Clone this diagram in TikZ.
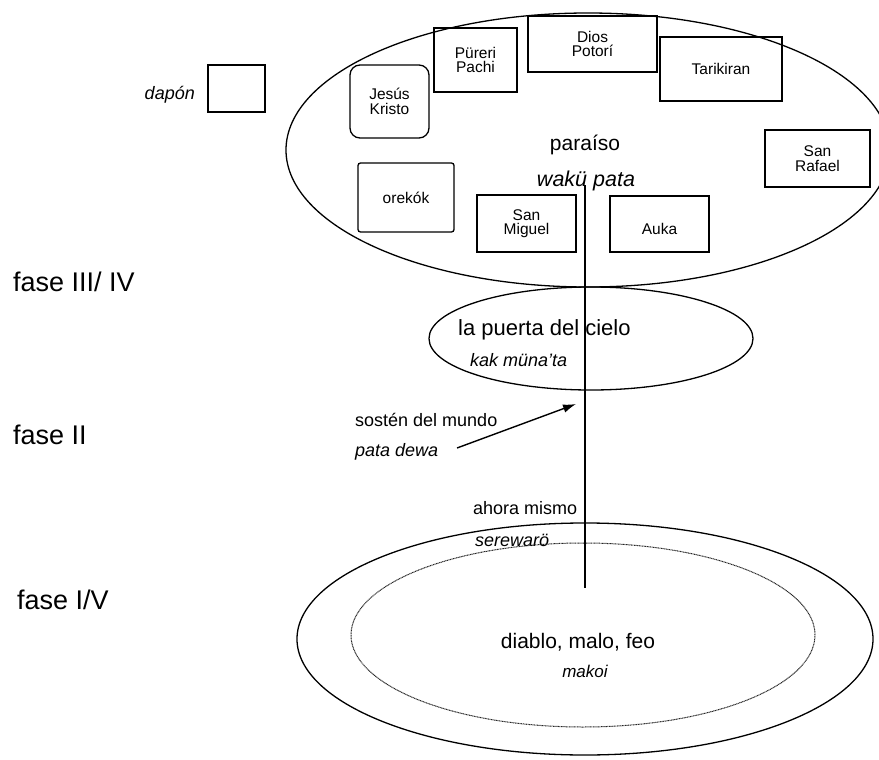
\documentclass[tikz,border=0pt]{standalone}
\usepackage{fontspec}
\setmainfont{Liberation Sans}
\usetikzlibrary{shapes.geometric,arrows.meta}
\begin{document}
\begin{tikzpicture}[x=1pt,y=-1pt,
  godbox/.style={draw, line width=1.3pt, inner sep=0pt, align=center,
    font=\fontsize{15.5}{14.5}\selectfont},
  ring/.style={draw, ellipse, line width=1.3pt, inner sep=0pt},
  dotring/.style={draw, ellipse, inner sep=0pt, line width=1pt, black!85,
    dash pattern=on 1pt off 0.6pt},
  lbl/.style={inner sep=0pt, anchor=base west},
  clbl/.style={inner sep=0pt, anchor=base},
  faselbl/.style={lbl, font=\fontsize{27}{30}\selectfont},
  axis/.style={line width=1.3pt}]
\fill[white] (0,0) rectangle (879,760);
\useasboundingbox (0,0) rectangle (879,760);

% paradise
\node[ring, minimum width=604, minimum height=274] (cielo) at (588,150) {};
\node[godbox, minimum width=83, minimum height=64] (pureri) at (475.5,60) {Püreri\\Pachi};
\node[godbox, minimum width=129, minimum height=56] (dios) at (592.5,44) {Dios\\Potorí};
\node[godbox, minimum width=122, minimum height=64] (tarikiran) at (721,69) {Tarikiran};
\node[godbox, rounded corners=10pt, minimum width=79, minimum height=73] (jesus) at (389.5,101.5) {Jesús\\Kristo};
\node[godbox, minimum width=105, minimum height=57] (rafael) at (817.5,158.5) {San\\Rafael};
\node[godbox, rounded corners=2.5pt, minimum width=96, minimum height=69] (orekok) at (406,197.5) {orekók};
\node[godbox, minimum width=99, minimum height=57] (miguel) at (526.5,223.5) {San\\Miguel};
\node[godbox, minimum width=99, minimum height=56] (auka) at (659.5,224) {};
\node[clbl, font=\fontsize{15.5}{14.5}\selectfont] (aukat) at (659.5,234.5) {Auka};
\node[clbl, font=\fontsize{21}{24}\selectfont] (paraiso) at (585,150.5) {paraíso};
\node[clbl, font=\fontsize{21.5}{24}\selectfont\itshape] (waku) at (586,186) {wakü pata};

% dapon
\node[godbox, minimum width=57, minimum height=47] (daponbox) at (236.5,88.5) {};
\node[inner sep=0pt, anchor=base east, font=\fontsize{18}{20}\selectfont\itshape] (dapon) at (195,99.5) {dapón};

% gate of heaven
\node[ring, minimum width=324, minimum height=103] (puerta) at (591,338.5) {};
\node[lbl, font=\fontsize{22}{24}\selectfont] (puertat) at (458,335) {la puerta del cielo};
\node[lbl, font=\fontsize{18}{20}\selectfont\itshape] (kak) at (470,366.5) {kak müna'ta};

% support of the world
\node[lbl, font=\fontsize{18}{20}\selectfont] (sosten) at (355,426.5) {sostén del mundo};
\node[lbl, font=\fontsize{18}{20}\selectfont\itshape] (patadewa) at (355,456.5) {pata dewa};
\coordinate (arrtail) at (457,448);
\coordinate (arrtip) at (576,404);
\draw[line width=1.4pt, -{Latex[length=13pt,width=8.5pt]}] (arrtail) -- (arrtip);

% now
\node[lbl, font=\fontsize{18}{20}\selectfont] (ahora) at (473,514.5) {ahora mismo};
\node[lbl, font=\fontsize{18}{20}\selectfont\itshape] (serewaro) at (475,546.5) {serewarö};

% underworld
\node[ring, minimum width=576, minimum height=232] (makoiring) at (585,639) {};
\node[dotring, minimum width=464, minimum height=184] (makoiinner) at (583,635) {};
\node[clbl, font=\fontsize{21}{24}\selectfont] (diablo) at (578,648.5) {diablo, malo, feo};
\node[clbl, font=\fontsize{17}{20}\selectfont\itshape] (makoi) at (585,677) {makoi};

% world axis
\coordinate (axtop) at (585,185);
\coordinate (axbot) at (585,588);
\draw[axis] (axtop) -- (axbot);

% phases
\node[faselbl] (f3) at (13,291.5) {fase III/ IV};
\node[faselbl] (f2) at (13,444.5) {fase II};
\node[faselbl] (f1) at (17,609.5) {fase I/V};
\end{tikzpicture}
\end{document}
